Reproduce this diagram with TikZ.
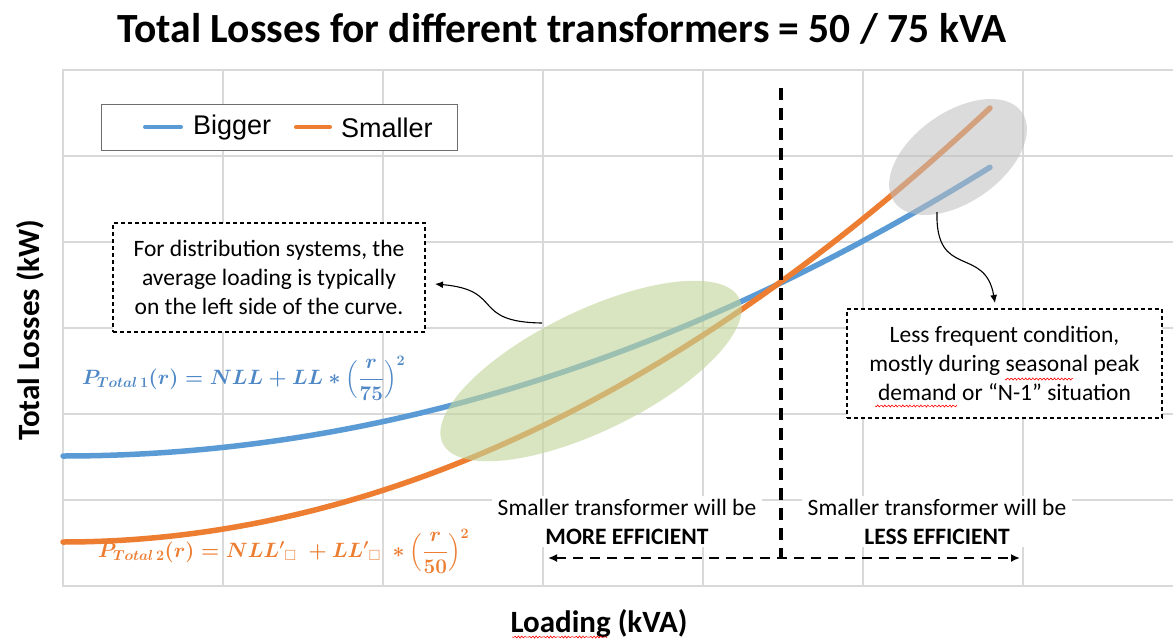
\documentclass[tikz,border=0pt]{standalone}
\usepackage{amsmath}
\usepackage{amssymb}
\usepackage{fontspec}
\setmainfont{Carlito}
\newfontfamily\legendfont{Liberation Sans}
\usetikzlibrary{arrows.meta}
\definecolor{gridc}{HTML}{D9D9D9}
\definecolor{blueL}{HTML}{5B9BD5}
\definecolor{orangeL}{HTML}{ED7D31}
\definecolor{blueT}{HTML}{4F88C6}
\definecolor{greenE}{HTML}{C3D69B}
\definecolor{grayE}{HTML}{BFBFBF}
\definecolor{legc}{HTML}{6E6E6E}
\newcommand{\phbox}{{\scriptstyle\square}}
\newcommand{\formA}{{\color{blueT}\fontsize{21}{25}\selectfont\mathversion{bold}$P_{Total\,1}(r) = NLL + LL * \left(\dfrac{r}{75}\right)^{2}$}}
\newcommand{\formB}{{\color{orangeL}\fontsize{21}{25}\selectfont\mathversion{bold}$P_{Total\,2}(r) = NLL'{}_{\phbox}\; + LL'{}_{\phbox}\; * \left(\dfrac{r}{50}\right)^{2}$}}
\newcommand{\wavy}[3]{\draw[squig] plot[domain=#1:#2, samples=60] (\x,{#3+1.1*sin((\x-#1)*100)});}
\begin{document}
\begin{tikzpicture}[x=1pt,y=-1pt,
  gridline/.style={draw=gridc, line width=1.4pt},
  curveB/.style={draw=blueL, line width=5.5pt, line cap=round},
  curveO/.style={draw=orangeL, line width=5.5pt, line cap=round},
  boxtxt/.style={font=\fontsize{23.5}{29}\selectfont, align=center},
  dashbox/.style={draw, dash pattern=on 4pt off 3pt, line width=1.1pt, fill=white, boxtxt},
  callout/.style={draw=black, line width=1.1pt, -{Latex[length=8pt,width=7pt]}},
  squig/.style={draw=red, line width=0.6pt}
]
\useasboundingbox[fill=white] (0,0) rectangle (1173,641);
% grid
\foreach \x in {223,383,...,1023} \draw[gridline] (\x,70) -- (\x,586);
\foreach \y in {156,242,328,414,500} \draw[gridline] (63,\y) -- (1173,\y);
\draw[gridline] (1173,70) -- (63,70) -- (63,586) -- (1173,586);
% curves
\draw[curveB] plot[domain=63:990, samples=80] (\x, {456 - 3.36*((\x-63)/100)^2});
\draw[curveO] plot[domain=63:990, samples=80] (\x, {542 - 5.05*((\x-63)/100)^2});
% ellipses
\fill[greenE, opacity=0.62, rotate around={26:(591,371)}] (591,371) ellipse [x radius=165pt, y radius=60pt];
\fill[grayE, opacity=0.55, rotate around={35:(958,157)}] (958,157) ellipse [x radius=78pt, y radius=45pt];
% title and axis labels
\node[font=\fontsize{41.5}{45}\selectfont\bfseries] (title) at (562,29) {Total Losses for different transformers = 50 / 75 kVA};
\node[font=\fontsize{31}{34}\selectfont\bfseries, rotate=90] (ylab) at (30,330) {Total Losses (kW)};
\node[font=\fontsize{31}{34}\selectfont\bfseries] (xlab) at (599,624) {Loading (kVA)};
\wavy{512}{607}{637}
% legend
\node[draw=legc, line width=1.8pt, fill=white, minimum width=356pt, minimum height=46pt] (legend) at (279.5,127.5) {};
\coordinate (lb1) at (145,127); \coordinate (lb2) at (181,127);
\coordinate (lo1) at (296,127); \coordinate (lo2) at (330,127);
\draw[draw=blueL, line width=4pt, line cap=round] (lb1) -- (lb2);
\draw[draw=orangeL, line width=4pt, line cap=round] (lo1) -- (lo2);
\node[anchor=west, inner sep=0, font=\legendfont\fontsize{27}{30}\selectfont] (lbig) at (193,128) {Bigger};
\node[anchor=west, inner sep=0, font=\legendfont\fontsize{27}{30}\selectfont] (lsmall) at (341,128) {Smaller};
% formulas
\node[anchor=west, inner sep=0pt] (f1) at (82,378) {\mbox{\formA}};
\node[anchor=west, inner sep=0pt] (f2) at (98,551) {\mbox{\formB}};
% callout boxes
\node[dashbox, minimum width=312pt, minimum height=109pt] (dist) at (269,277.5) {For distribution systems, the\\average loading is typically\\on the left side of the curve.};
\node[dashbox, minimum width=315pt, minimum height=109pt] (less) at (1004.5,363.5) {Less frequent condition,\\mostly during seasonal peak\\demand or “N-1” situation};
\wavy{1005}{1073}{379}
\wavy{875}{957}{406}
% callout arrows
\coordinate (gstart) at (542,323);
\coordinate (gend) at (435,284);
\draw[callout] (gstart) .. controls (470,322) and (505,290) .. (gend);
\coordinate (ystart) at (937,212);
\coordinate (yend) at (995,303);
\draw[callout] (ystart) .. controls (935,280) and (985,245) .. (yend);
% efficiency texts
\node[boxtxt, fill=white, inner xsep=6pt, inner ysep=3pt] (more) at (627,521.5) {Smaller transformer will be\\\textbf{MORE EFFICIENT}};
\node[boxtxt, fill=white, inner xsep=6pt, inner ysep=3pt] (lessEff) at (937,521.5) {Smaller transformer will be\\\textbf{LESS EFFICIENT}};
% dashed divider and arrow
\coordinate (vtop) at (781,88);
\coordinate (vbot) at (781,558);
\coordinate (hl) at (548,558);
\coordinate (hr) at (1020,558);
\draw[line width=3.2pt, dash pattern=on 12pt off 8pt] (vtop) -- (vbot);
\draw[line width=2.4pt, dash pattern=on 10pt off 7pt, {Latex[length=9pt,width=8pt]}-{Latex[length=9pt,width=8pt]}] (hl) -- (hr);
\end{tikzpicture}
\end{document}
